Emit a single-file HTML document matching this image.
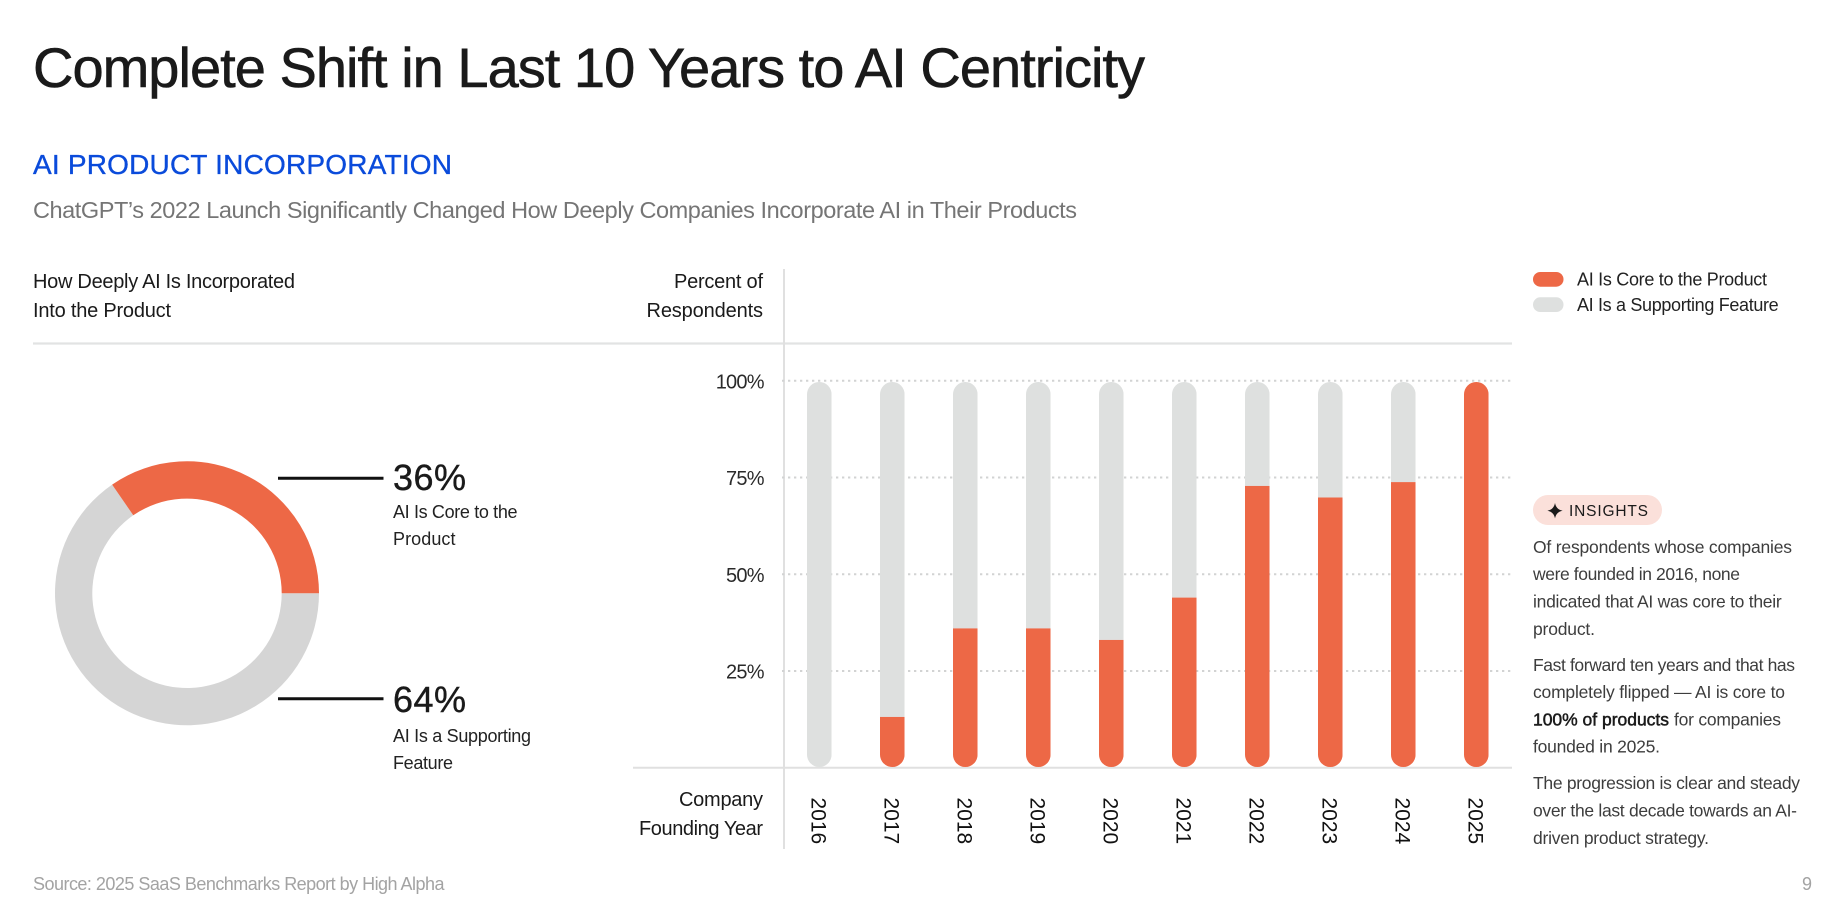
<!DOCTYPE html>
<html lang="en">
<head>
<meta charset="utf-8">
<title>Complete Shift in Last 10 Years to AI Centricity</title>
<style>
html,body{margin:0;padding:0;background:#fff;}
svg{display:block;font-family:"Liberation Sans",sans-serif;}
.body{font-size:17.5px;fill:#3d3d3d;}
.lab{font-size:20px;fill:#1a1a1a;}
.sub{font-size:18px;fill:#222;}
</style>
</head>
<body>
<svg id="slide" width="1843" height="912" viewBox="0 0 1843 912" xmlns="http://www.w3.org/2000/svg">
  <text x="33" y="87" font-size="56" fill="#1a1a1a" stroke="#1a1a1a" stroke-width="0.6" textLength="1112" lengthAdjust="spacing">Complete Shift in Last 10 Years to AI Centricity</text>
  <text x="33" y="174" font-size="28" fill="#0a4bdb" stroke="#0a4bdb" stroke-width="0.35" textLength="419" lengthAdjust="spacing">AI PRODUCT INCORPORATION</text>
  <text x="33" y="218" font-size="23.5" fill="#757575" textLength="1044" lengthAdjust="spacing">ChatGPT’s 2022 Launch Significantly Changed How Deeply Companies Incorporate AI in Their Products</text>

  <text class="lab" x="33" y="288" textLength="262" lengthAdjust="spacing">How Deeply AI Is Incorporated</text>
  <text class="lab" x="33" y="317" textLength="138" lengthAdjust="spacing">Into the Product</text>

  <text class="lab" x="674" y="288" textLength="89" lengthAdjust="spacing">Percent of</text>
  <text class="lab" x="646.5" y="317" textLength="116.5" lengthAdjust="spacing">Respondents</text>
  <text class="lab" x="679" y="806" textLength="84" lengthAdjust="spacing">Company</text>
  <text class="lab" x="639" y="835" textLength="124" lengthAdjust="spacing">Founding Year</text>

  <line x1="33" y1="343.5" x2="1512" y2="343.5" stroke="#e2e3e3" stroke-width="2.2"/>
  <line x1="784" y1="269" x2="784" y2="849" stroke="#e0e0e0" stroke-width="2"/>
  <line x1="633" y1="767.8" x2="1512" y2="767.8" stroke="#e0e0e0" stroke-width="2"/>

  <g id="grid"></g>
  <g id="yticks"></g>
  <defs id="clips"></defs>
  <g id="bars"></g>
  <g id="xticks"></g>

  <g id="donut"></g>
  <line x1="278" y1="478.3" x2="383.5" y2="478.3" stroke="#111" stroke-width="3"/>
  <line x1="278" y1="698.7" x2="383.5" y2="698.7" stroke="#111" stroke-width="3"/>
  <text id="donut-label-core" x="393" y="490" font-size="36" fill="#1a1a1a" stroke="#1a1a1a" stroke-width="0.4" textLength="73" lengthAdjust="spacing"></text>
  <text class="sub" x="393" y="518" textLength="124.5" lengthAdjust="spacing">AI Is Core to the</text>
  <text class="sub" x="393" y="545" textLength="62.5" lengthAdjust="spacing">Product</text>
  <text id="donut-label-supporting" x="393" y="712" font-size="36" fill="#1a1a1a" stroke="#1a1a1a" stroke-width="0.4" textLength="73" lengthAdjust="spacing"></text>
  <text class="sub" x="393" y="742" textLength="138" lengthAdjust="spacing">AI Is a Supporting</text>
  <text class="sub" x="393" y="769" textLength="60" lengthAdjust="spacing">Feature</text>

  <g>
    <rect x="1533" y="272" width="30.5" height="14.7" rx="7.3" fill="#ed6846"/>
    <text class="sub" x="1577" y="285.7" textLength="190" lengthAdjust="spacing">AI Is Core to the Product</text>
    <rect x="1533" y="297.3" width="30.5" height="14.7" rx="7.3" fill="#dee0df"/>
    <text class="sub" x="1577" y="311" textLength="201.7" lengthAdjust="spacing">AI Is a Supporting Feature</text>
  </g>

  <g>
    <rect x="1533" y="495" width="129" height="30" rx="15" fill="#fbe0da"/>
    <path d="M1555 503 Q1556.2 509.5 1562.6 510.7 Q1556.2 511.9 1555 518.4 Q1553.8 511.9 1547.4 510.7 Q1553.8 509.5 1555 503 Z" fill="#1a1a1a"/>
    <text x="1569" y="516" font-size="15.5" fill="#1a1a1a" textLength="79" lengthAdjust="spacing">INSIGHTS</text>
  </g>

  <g>
    <text class="body" x="1533" y="553" textLength="259" lengthAdjust="spacing">Of respondents whose companies</text>
    <text class="body" x="1533" y="580" textLength="207" lengthAdjust="spacing">were founded in 2016, none</text>
    <text class="body" x="1533" y="607.7" textLength="248.7" lengthAdjust="spacing">indicated that AI was core to their</text>
    <text class="body" x="1533" y="635" textLength="62" lengthAdjust="spacing">product.</text>
    <text class="body" x="1533" y="671" textLength="262" lengthAdjust="spacing">Fast forward ten years and that has</text>
    <text class="body" x="1533" y="698" textLength="252" lengthAdjust="spacing">completely flipped — AI is core to</text>
    <text class="body" x="1533" y="725.7" style="fill:#1a1a1a" stroke="#1a1a1a" stroke-width="0.5" textLength="136" lengthAdjust="spacing">100% of products</text>
    <text class="body" x="1674" y="725.7" textLength="107" lengthAdjust="spacing">for companies</text>
    <text class="body" x="1533" y="752.7" textLength="127" lengthAdjust="spacing">founded in 2025.</text>
    <text class="body" x="1533" y="789" textLength="267" lengthAdjust="spacing">The progression is clear and steady</text>
    <text class="body" x="1533" y="816.7" textLength="264" lengthAdjust="spacing">over the last decade towards an AI-</text>
    <text class="body" x="1533" y="844" textLength="176" lengthAdjust="spacing">driven product strategy.</text>
  </g>

  <text x="33" y="890" font-size="18" fill="#a3a3a3" textLength="411.5" lengthAdjust="spacing">Source: 2025 SaaS Benchmarks Report by High Alpha</text>
  <text x="1802" y="890" font-size="18" fill="#a3a3a3">9</text>
</svg>
<script>
var years = ['2016','2017','2018','2019','2020','2021','2022','2023','2024','2025'];
var coreValues = [0,13,36,36,33,44,73,70,74,100];
var supportingValues = [100,87,64,64,67,56,27,30,26,0];
var tickValues = [100,75,50,25];
var tickLabels = ['100%','75%','50%','25%'];
var donutCoreShare = 34.6;
var donutSupportingShare = 65.4;
var donutPrintedLabels = ['36%','64%'];

var NS = 'http://www.w3.org/2000/svg';
function make(tag, attrs, parent) {
  var el = document.createElementNS(NS, tag);
  for (var k in attrs) { el.setAttribute(k, attrs[k]); }
  parent.appendChild(el);
  return el;
}
function yScale(v) { return 767 - v * 3.85; }
function gridScale(v) { return 767.7 - v * 3.87; }
function xBand(i) { return 807 + i * 73; }
var barWidth = 24.6;

var gridG = document.getElementById('grid');
var yTickG = document.getElementById('yticks');
tickValues.forEach(function (v, i) {
  var y = gridScale(v);
  var line = make('line', {x1: 782, x2: 1512, y1: y, y2: y, stroke: '#d2d3d3', 'stroke-width': 2, 'stroke-dasharray': '2.3 3.7'}, gridG);
  
  
  var t = make('text', {x: 763.7, y: gridScale(v) + 7.6, 'text-anchor': 'end', 'font-size': 20, 'letter-spacing': '-0.8', fill: '#2a2a2a'}, yTickG);
  t.textContent = tickLabels[i];
  
  
});

var barsG = document.getElementById('bars');
var clips = document.getElementById('clips');
var xTickG = document.getElementById('xticks');
years.forEach(function (year, i) {
  var x = xBand(i);
  var top = yScale(coreValues[i] + supportingValues[i]);
  var bottom = yScale(0);
  var clip = make('clipPath', {id: 'bar-clip-' + i}, clips);
  make('rect', {x: x, y: top, width: barWidth, height: bottom - top, rx: 12.3, ry: 12.3}, clip);
  var group = make('g', {'clip-path': 'url(#bar-clip-' + i + ')'}, barsG);
  
  
  var boundary = yScale(coreValues[i]);
  var grey = make('rect', {x: x, y: top, width: barWidth, height: boundary - top, fill: '#dee0df'}, group);
  
  
  var orange = make('rect', {x: x, y: boundary, width: barWidth, height: bottom - boundary, fill: '#ed6846'}, group);
  
  
  var bx = x + barWidth / 2 - 8;
  var label = make('text', {x: bx, y: 797.5, transform: 'rotate(90 ' + bx + ' 797.5)', 'font-size': 21, fill: '#111'}, xTickG);
  label.textContent = year;
  
  
});

var cx = 187, cy = 593.3, rOuter = 132, rInner = 94.7;
function pt(r, deg) {
  var a = deg * Math.PI / 180;
  return (cx + r * Math.cos(a)).toFixed(2) + ' ' + (cy - r * Math.sin(a)).toFixed(2);
}
function sector(startDeg, sweep) {
  var end = startDeg + sweep, large = sweep > 180 ? 1 : 0;
  return 'M' + pt(rOuter, startDeg) + ' A' + rOuter + ' ' + rOuter + ' 0 ' + large + ' 0 ' + pt(rOuter, end) +
         ' L' + pt(rInner, end) + ' A' + rInner + ' ' + rInner + ' 0 ' + large + ' 1 ' + pt(rInner, startDeg) + ' Z';
}
var donutG = document.getElementById('donut');
var total = donutCoreShare + donutSupportingShare;
var coreSweep = 360 * donutCoreShare / total;
var supportingSlice = make('path', {d: sector(coreSweep, 360 * donutSupportingShare / total), fill: '#d5d5d5'}, donutG);


var coreSlice = make('path', {d: sector(0, coreSweep), fill: '#ed6846'}, donutG);


document.getElementById('donut-label-core').textContent = donutPrintedLabels[0];
document.getElementById('donut-label-supporting').textContent = donutPrintedLabels[1];
</script>
</body>
</html>
